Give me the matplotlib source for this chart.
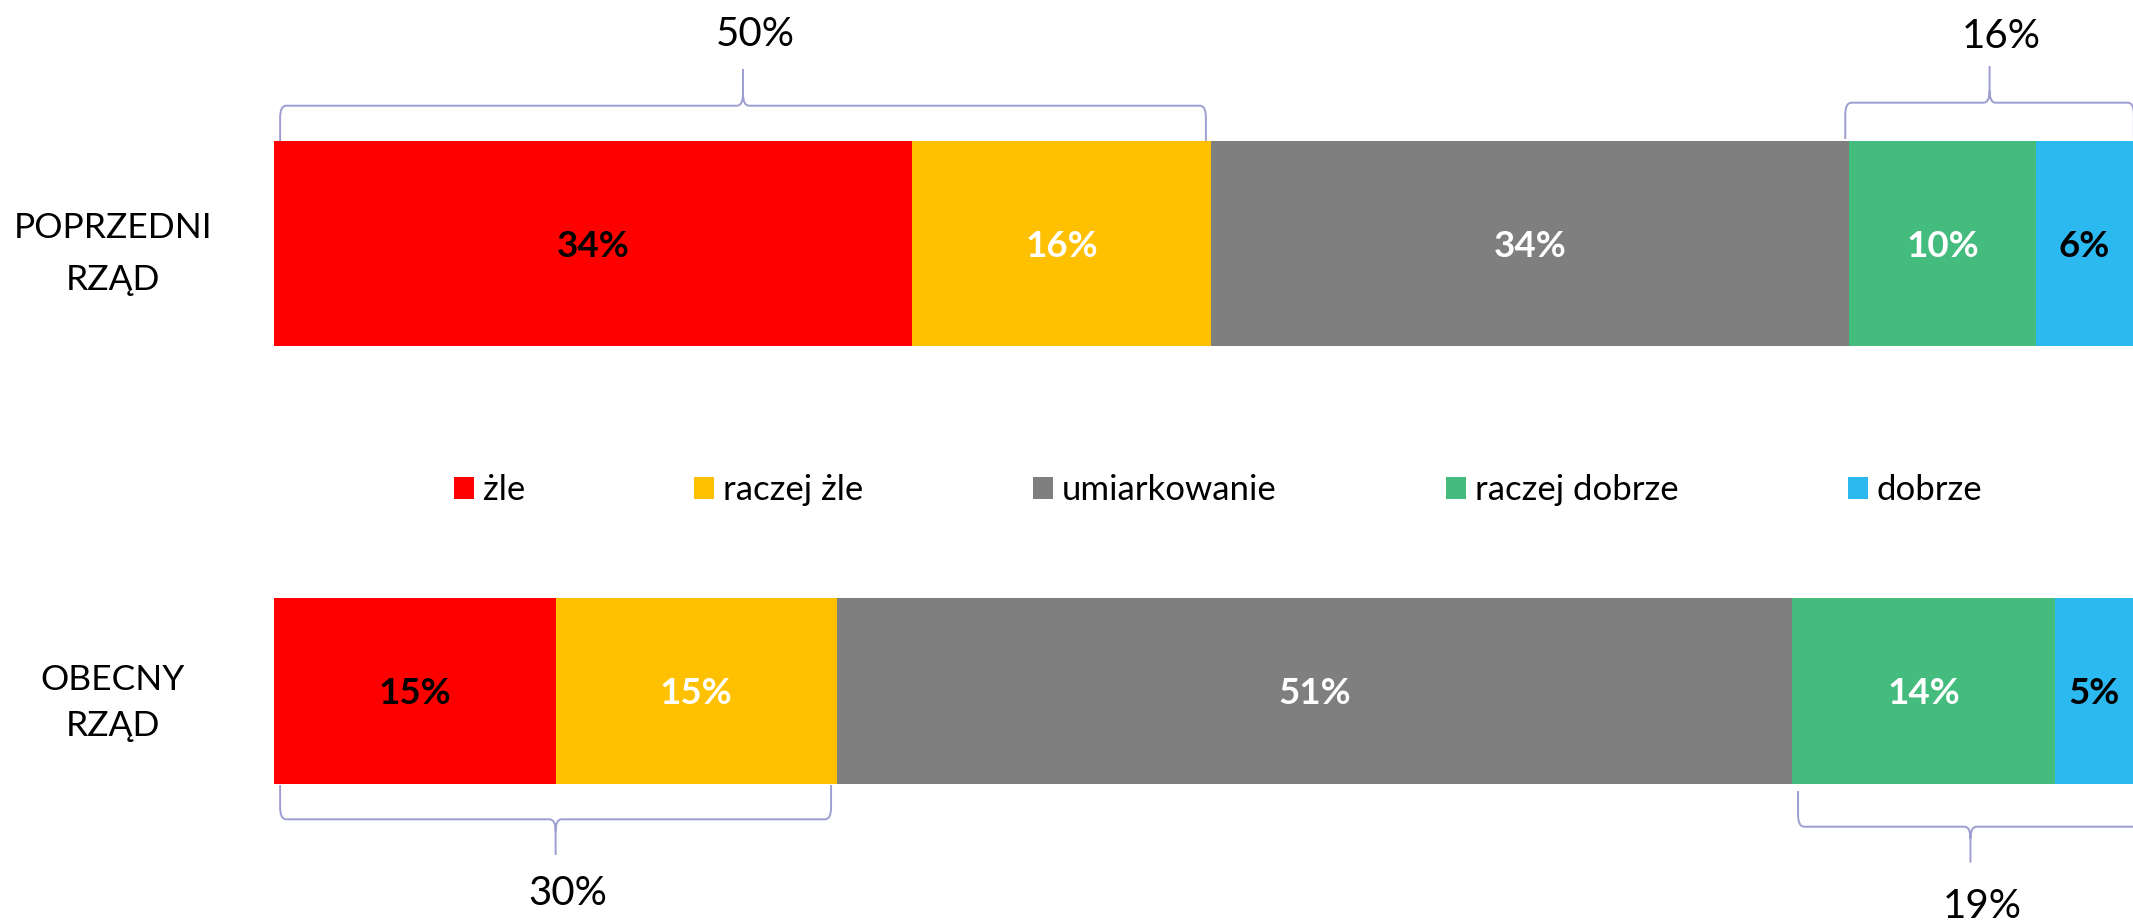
import matplotlib
matplotlib.use("Agg")
import matplotlib.pyplot as plt
from matplotlib.path import Path
from matplotlib.patches import PathPatch, Patch
import numpy as np

# ---- data ----
categories = ["POPRZEDNI\nRZĄD", "OBECNY\nRZĄD"]
series_names = ["żle", "raczej żle", "umiarkowanie", "raczej dobrze", "dobrze"]
previous_gov = [34, 16, 34, 10, 6]
current_gov = [15, 15, 51, 14, 5]
rows = [previous_gov, current_gov]

series_colors = ["#FF0000", "#FFC000", "#7F7F7F", "#43BC7D", "#2CB9F0"]
value_label_colors = ["black", "white", "white", "white", "black"]

# grouped totals shown with curly brackets: (row, first segment, last segment)
bracket_groups = [(0, 0, 1), (0, 3, 4), (1, 0, 1), (1, 3, 4)]

# ---- layout (pixels) ----
W, H = 2133, 921
PX_PER_PCT = 18.74
X_ZERO = 274.5
row_centers = [243.3, 690.9]
row_heights = [204.7, 185.7]
cat_label_x = 113
cat_label_baselines = [(238, 290), (690, 736)]
# per bracket: y at bar end, y of horizontal, y of tip, label baseline, x shift
bracket_geom = [
    (141, 105.7, 69, 46.5, 0),
    (139, 102.7, 66, 47.5, -9),
    (785, 819.3, 855, 905, 0),
    (791, 826.7, 862.7, 918, 0),
]
BRACE_COLOR = "#9E9ED2"

plt.rcParams["font.family"] = ["Lato", "DejaVu Sans"]

fig = plt.figure(figsize=(W / 100, H / 100), dpi=100)
fig.patch.set_facecolor("white")

ax = fig.add_axes([0, 0, 1, 1])
xmin, xmax = -X_ZERO / PX_PER_PCT, (W - X_ZERO) / PX_PER_PCT
ax.set_xlim(xmin, xmax)
ax.set_ylim(H, 0)
ax.axis("off")

ov = fig.add_axes([0, 0, 1, 1], facecolor="none")
ov.set_xlim(0, W)
ov.set_ylim(H, 0)
ov.axis("off")

# ---- stacked bars with value labels ----
for r, vals in enumerate(rows):
    vals = np.array(vals, dtype=float)
    lefts = np.concatenate([[0], np.cumsum(vals)[:-1]])
    ax.barh(row_centers[r], vals, left=lefts, height=row_heights[r],
            color=series_colors, edgecolor="none")
    for i, (lft, v) in enumerate(zip(lefts, vals)):
        hi = min(lft + v, xmax)
        ax.text((lft + hi) / 2, row_centers[r] + 13.4, f"{int(v)}%",
                ha="center", va="baseline", fontsize=26.5, fontweight="bold",
                color=value_label_colors[i])


# ---- curly brackets with group totals ----
def brace(xa, xb, y_end, y_mid, y_tip, rx, ry_end, ry_tip):
    xt = (xa + xb) / 2
    s = 1 if y_end > y_mid else -1
    verts = [
        (xa, y_end), (xa, y_mid + s * ry_end), (xa, y_mid), (xa + rx, y_mid),
        (xt - rx, y_mid), (xt, y_mid), (xt, y_mid - s * ry_tip), (xt, y_tip),
        (xt, y_mid - s * ry_tip), (xt, y_mid), (xt + rx, y_mid),
        (xb - rx, y_mid), (xb, y_mid), (xb, y_mid + s * ry_end), (xb, y_end),
    ]
    M, L, C = Path.MOVETO, Path.LINETO, Path.CURVE3
    codes = [M, L, C, C, L, C, C, L, M, C, C, L, C, C, L]
    return Path(verts, codes), xt


inset = 0.3
rx = 6 / PX_PER_PCT
for (r, a, b), (y_end, y_mid, y_tip, base, dx) in zip(bracket_groups, bracket_geom):
    vals = rows[r]
    start = sum(vals[:a])
    stop = sum(vals[:b + 1])
    total = sum(vals[a:b + 1])
    shift = dx / PX_PER_PCT
    path, xt = brace(start + inset + shift, stop - inset + shift,
                     y_end, y_mid, y_tip, rx, 12, 12)
    ax.add_patch(PathPatch(path, facecolor="none", edgecolor=BRACE_COLOR, lw=1.4))
    ax.text(xt + 12 / PX_PER_PCT, base, f"{total}%", ha="center", va="baseline",
            fontsize=29, color="black")

# ---- category labels ----
for cat, baselines in zip(categories, cat_label_baselines):
    for line, yb in zip(cat.split("\n"), baselines):
        ov.text(cat_label_x, yb, line, ha="center", va="baseline",
                fontsize=25.5, color="black")

# ---- legend ----
handles = [Patch(facecolor=c, edgecolor="none", label=n)
           for c, n in zip(series_colors, series_names)]
fig.legend(handles=handles, loc="center left",
           bbox_to_anchor=(453.7 / W, 1 - 490 / H), ncol=5, frameon=False,
           fontsize=25, handlelength=0.58, handleheight=0.6,
           handletextpad=0.26, columnspacing=4.87, borderpad=0,
           borderaxespad=0)

fig.savefig("out.png", dpi=100, facecolor="white")
